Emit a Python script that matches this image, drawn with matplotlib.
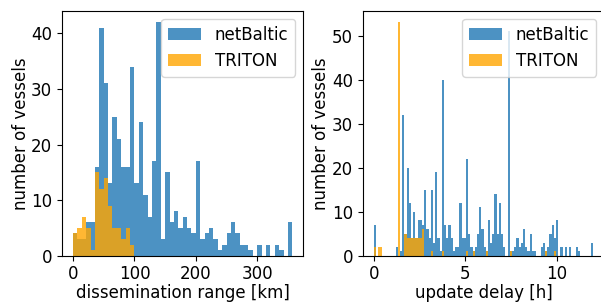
#importing necessary libraries
import numpy as np
import matplotlib.pyplot as plt

plt.rcParams['font.size'] = 12

#dissemination range: vessels per bin (50 bins, 0-357 km)
range_edges = np.linspace(0, 357, 51)
netbaltic_range = [4, 3, 3, 6, 6, 16, 41, 31, 13, 25,
                   21, 16, 16, 34, 13, 24, 11, 7, 17, 42,
                   3, 15, 6, 8, 5, 7, 5, 4, 17, 3,
                   4, 5, 3, 1, 2, 4, 6, 4, 2, 2,
                   1, 0, 2, 0, 2, 0, 2, 1, 0, 6]
#TRITON only covers the first 14 bins (0-100 km)
triton_range = [4, 5, 7, 5, 1, 15, 12, 14, 9, 5, 5, 3, 5, 2]

#update delay: vessels per bin (100 bins, 0-12 h)
delay_edges = np.linspace(0, 12, 101)
netbaltic_delay = [7, 0, 0, 0, 0, 0, 0, 0, 0, 0,
                   2, 0, 1, 32, 5, 20, 12, 4, 10, 4,
                   8, 8, 7, 15, 6, 4, 15, 3, 19, 4,
                   1, 40, 7, 4, 7, 4, 1, 2, 2, 12,
                   4, 4, 22, 5, 2, 1, 2, 5, 11, 6,
                   2, 1, 8, 3, 5, 14, 5, 12, 5, 2,
                   0, 51, 1, 1, 2, 4, 2, 3, 6, 2,
                   1, 5, 1, 1, 0, 0, 2, 3, 1, 2,
                   5, 7, 4, 8, 0, 2, 0, 2, 0, 2,
                   0, 0, 2, 1, 0, 0, 0, 0, 0, 3]
triton_delay = [2, 0, 2, 2, 0, 0, 0, 0, 0, 0,
                0, 53, 0, 0, 5, 4, 4, 4, 4, 4,
                4, 4, 6, 0, 0, 0, 1, 0, 0, 0,
                0, 1, 0, 0, 0, 0, 0, 0, 0, 0,
                0, 0, 1, 0, 0, 1, 0, 0, 0, 0,
                0, 1, 0, 0, 0, 0, 0, 0, 0, 0,
                0, 0, 1, 0, 0, 0, 0, 0, 0, 0,
                0, 0, 0, 0, 0, 0, 0, 0, 1, 0,
                0, 0, 1, 0, 0, 0, 0, 0, 0, 0,
                0, 0, 0, 0, 0, 0, 0, 0, 0, 0]

#tick labels
range_xticks = [0, 100, 200, 300]
range_yticks = [0, 10, 20, 30, 40]
delay_xticks = [0, 5, 10]
delay_yticks = [0, 10, 20, 30, 40, 50]


def plot_hist(ax, edges, counts, **kw):
    #counts are already binned, so feed bin centres back in as weights
    e = edges[:len(counts) + 1]
    centres = (e[:-1] + e[1:]) / 2
    ax.hist(centres, bins=e, weights=counts, alpha=0.8, **kw)


fig = plt.figure(figsize=(6.01, 3.05), dpi=100)
ax1 = fig.add_axes([0.1032, 0.1616, 0.4015, 0.8033])
ax2 = fig.add_axes([0.6035, 0.1616, 0.402, 0.8033])

#left: dissemination range
plot_hist(ax1, range_edges, netbaltic_range, color='tab:blue', label='netBaltic')
plot_hist(ax1, range_edges, triton_range, color='orange', label='TRITON')
ax1.set_xticks(range_xticks)
ax1.set_yticks(range_yticks)
ax1.set_xlabel('dissemination range [km]', labelpad=0.5)
ax1.set_ylabel('number of vessels', labelpad=1)
ax1.legend(loc='upper right')

#right: update delay
plot_hist(ax2, delay_edges, netbaltic_delay, color='tab:blue', label='netBaltic')
plot_hist(ax2, delay_edges, triton_delay, color='orange', label='TRITON')
ax2.set_xticks(delay_xticks)
ax2.set_yticks(delay_yticks)
ax2.set_xlabel('update delay [h]', labelpad=0.5)
ax2.set_ylabel('number of vessels', labelpad=1)
ax2.legend(loc='upper right')

fig.savefig('out.png', dpi=100)
